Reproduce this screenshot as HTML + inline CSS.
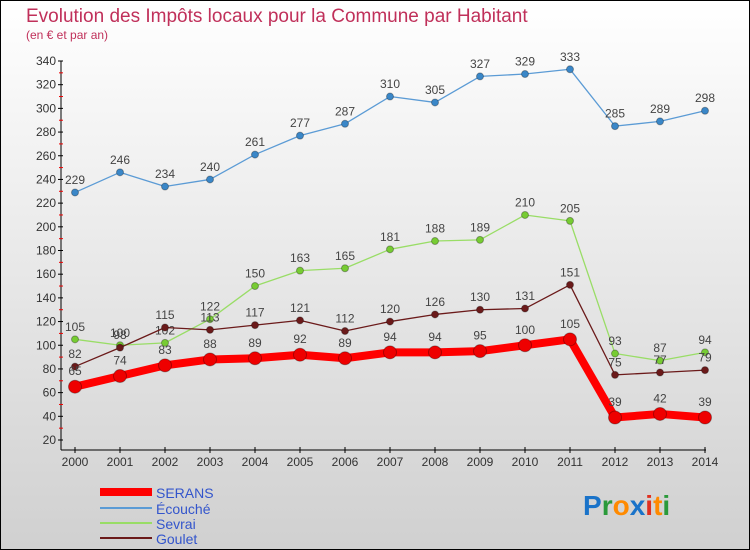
<!DOCTYPE html>
<html><head><meta charset="utf-8"><style>
body{margin:0;}
#c{width:750px;height:550px;position:relative;overflow:hidden;}
svg text{font-family:"Liberation Sans",sans-serif;}
</style></head><body>
<div id="c">
<svg id="s" width="750" height="550" xmlns="http://www.w3.org/2000/svg">
<defs><linearGradient id="bg" x1="0" y1="0" x2="0" y2="1"><stop offset="0" stop-color="#ffffff"/><stop offset="1" stop-color="#d0d0d0"/></linearGradient></defs>
<rect x="0.5" y="0.5" width="749" height="549" fill="url(#bg)" stroke="#000"/>
<text x="26" y="22" font-size="19" fill="#c0305a">Evolution des Impôts locaux pour la Commune par Habitant</text>
<text x="26" y="39" font-size="12" fill="#c0305a">(en € et par an)</text>
<g id="axes"></g><g id="series"></g>
<g>
<line x1="100" y1="492" x2="152" y2="492" stroke="#ff0000" stroke-width="8"/>
<text x="156" y="498" font-size="14" fill="#3355cc">SERANS</text>
<line x1="100" y1="508" x2="152" y2="508" stroke="#5b9bd5" stroke-width="2"/>
<text x="156" y="514" font-size="14" fill="#3355cc">Écouché</text>
<line x1="100" y1="523" x2="152" y2="523" stroke="#99dd66" stroke-width="2"/>
<text x="156" y="529" font-size="14" fill="#3355cc">Sevrai</text>
<line x1="100" y1="538" x2="152" y2="538" stroke="#6b1a1a" stroke-width="2"/>
<text x="156" y="544" font-size="14" fill="#3355cc">Goulet</text>
</g>
<g font-size="28" font-weight="bold">
<text x="583" y="515"><tspan fill="#1a73c9">P</tspan><tspan fill="#2a9a3a">r</tspan><tspan fill="#ff8a00">o</tspan><tspan fill="#1a73c9">x</tspan><tspan fill="#e03020">i</tspan><tspan fill="#ff8a00">t</tspan><tspan fill="#2a9a3a">i</tspan></text>
</g>
</svg></div>
<script>
const years=[2000,2001,2002,2003,2004,2005,2006,2007,2008,2009,2010,2011,2012,2013,2014];
const serans=[65,74,83,88,89,92,89,94,94,95,100,105,39,42,39];
const ecouche=[229,246,234,240,261,277,287,310,305,327,329,333,285,289,298];
const sevrai=[105,100,102,122,150,163,165,181,188,189,210,205,93,87,94];
const goulet=[82,98,115,113,117,121,112,120,126,130,131,151,75,77,79];
const yTicks=[20,40,60,80,100,120,140,160,180,200,220,240,260,280,300,320,340];
const NS="http://www.w3.org/2000/svg";
function X(i){return 75+i*45;}
function Y(v){return 440-(v-20)*379/320;}
function mk(tag,attrs,parent){const e=document.createElementNS(NS,tag);for(const k in attrs)e.setAttribute(k,attrs[k]);parent.appendChild(e);return e;}
const ax=document.getElementById('axes');
const sg=document.getElementById('series');
let a=mk('line',{x1:61,y1:61,x2:61,y2:450,stroke:'#000'},ax);


let b=mk('line',{x1:61,y1:450,x2:706,y2:450,stroke:'#000'},ax);


yTicks.forEach((t,i)=>{
 mk('line',{x1:58,y1:Y(t),x2:63,y2:Y(t),stroke:'#000'},ax);
 if(i<yTicks.length-1) mk('line',{x1:59,y1:Y(t+10),x2:63,y2:Y(t+10),stroke:'#e00'},ax);
 const l=mk('text',{x:56,y:Y(t)+4,'font-size':12,'text-anchor':'end',fill:'#333'},ax);
 l.textContent=t;
 
 
});
years.forEach((yr,i)=>{
 mk('line',{x1:X(i),y1:447,x2:X(i),y2:453,stroke:'#000'},ax);
 const l=mk('text',{x:X(i),y:466,'font-size':12,'text-anchor':'middle',fill:'#333'},ax);
 l.textContent=yr;
 
 
});
function series(name,vals,color,w,r,dot){
 const g=mk('g',{},sg);
 
 
 const p=mk('polyline',{points:vals.map((v,i)=>X(i)+','+Y(v)).join(' '),fill:'none',stroke:color,'stroke-width':w,'stroke-linejoin':'round'},g);
 
 
 vals.forEach((v,i)=>{
  const c=mk('circle',{cx:X(i),cy:Y(v),r:r,fill:dot,stroke:'rgba(0,0,0,0.3)','stroke-width':1},g);
  
  
  const t=mk('text',{x:X(i),y:Y(v)-r-5,'font-size':12,'text-anchor':'middle',fill:'#444'},g);
  t.textContent=v;
  
  
 });
}
series('ecouche',ecouche,'#5b9bd5',1.3,3.5,'#3a87c8');
series('sevrai',sevrai,'#99dd66',1.3,3.5,'#77cc33');
series('goulet',goulet,'#6b1a1a',1.3,3.5,'#6b1a1a');
series('serans',serans,'#ff0000',8,6.5,'#ee0000');
</script>
</body></html>
